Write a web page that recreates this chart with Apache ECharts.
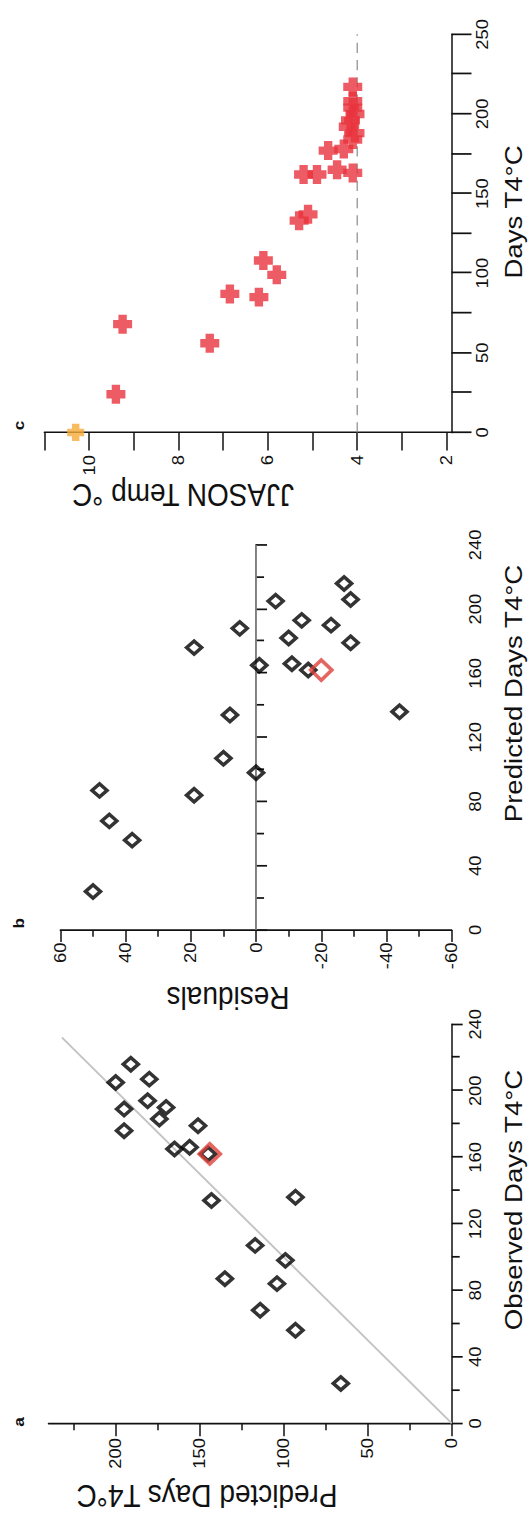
<!DOCTYPE html>
<html>
<head>
<meta charset="utf-8">
<script src="https://cdn.jsdelivr.net/npm/echarts@6/dist/echarts.min.js"></script>
<style>
  html, body { margin: 0; padding: 0; background: #fff; }
  body { width: 532px; height: 1519px; overflow: hidden; position: relative; }
  /* the figure is laid out landscape, then turned a quarter turn to the left */
  #chart {
    position: absolute; left: 0; top: 0;
    width: 1321px; height: 532px;
    transform-origin: 0 0;
    transform: translate(0, 1519px) rotate(-90deg) scale(1.15, 1);
  }
</style>
</head>
<body>
<div id="chart"></div>
<script>
// panel a: observed vs predicted days
const obsA = [24, 56, 68, 84, 87, 98, 107, 136, 134, 162, 166, 165, 179, 176, 183, 190, 189, 194, 205, 207, 216];
const predA = [66, 93, 114, 104, 135, 99, 117, 93, 143, 145, 156, 165, 151, 195, 174, 170, 195, 181, 200, 180, 191];
const redA = [162, 144];
const oneToOne = [0, 232];

// panel b: residuals vs predicted days
const predB = [24, 56, 68, 87, 84, 98, 107, 134, 136, 162, 166, 165, 179, 176, 182, 190, 188, 193, 205, 206, 216];
const residB = [50, 38, 45, 48, 19, 0, 10, 8, -44, -16, -11, -1, -29, 19, -10, -23, 5, -14, -6, -29, -27];
const redB = [162, -20];
const zeroLine = [0, 240];

// panel c: days vs JJASON temperature
const daysC = [24, 68, 56, 87, 85, 108, 99, 133, 137, 162, 162, 165, 163, 177, 178, 184, 192, 196, 204, 208, 217, 188, 200];
const tempC = [9.4, 9.25, 7.3, 6.85, 6.2, 6.1, 5.8, 5.3, 5.1, 5.2, 4.9, 4.45, 4.1, 4.65, 4.3, 4.1, 4.2, 4.15, 4.1, 4.1, 4.1, 4.05, 4.05];
const orangeC = [0, 10.3];
const threshold = 4;
const thresholdDays = [0, 250];

// tick values
const predTicksA = [0, 50, 100, 150, 200];
const predMinorA = [25, 75, 125, 175, 225];
const tempTicks = [2, 3, 4, 5, 6, 7, 8, 9, 10, 11];
const tempLabels = [2, 4, 6, 8, 10];

const FONT = 'Liberation Sans, Arial, Helvetica, sans-serif';
const INK = '#111';
const plusPath = 'path://M2.8,0H7.2V2.8H10V7.2H7.2V10H2.8V7.2H0V2.8H2.8Z';

const chart = echarts.init(document.getElementById('chart'), null, {
  renderer: 'svg', width: 1321, height: 532
});

const line = { lineStyle: { color: INK, width: 1.5 } };
const label = (margin) => ({ color: INK, fontSize: 16, fontFamily: FONT, margin: margin });

const xAxisBase = (grid, max, interval, tickLen, minorLen, margin) => ({
  type: 'value', gridIndex: grid, position: 'bottom',
  min: 0, max: max, interval: interval,
  axisLine: line,
  axisTick: { length: tickLen, lineStyle: { color: INK, width: 1.5 } },
  minorTick: { show: true, splitNumber: 2, length: minorLen, lineStyle: { color: INK, width: 1.5 } },
  axisLabel: label(margin),
  splitLine: { show: false }
});

const diamond = { color: 'rgba(0,0,0,0)', borderColor: '#000', borderWidth: 3.3 };
const redDiamond = { color: 'rgba(0,0,0,0)', borderColor: '#df3f38', borderWidth: 3.4 };

const option = {
  animation: false,
  backgroundColor: '#fff',
  grid: [
    { left: 83.2, top: 48.5, width: 347, height: 403.2, outerBoundsMode: 'none', containLabel: false },
    { left: 512.2, top: 60.4, width: 334.8, height: 391.3, outerBoundsMode: 'none', containLabel: false },
    { left: 944.8, top: 44.4, width: 346.2, height: 407.1, outerBoundsMode: 'none', containLabel: false }
  ],
  xAxis: [
    xAxisBase(0, 240, 40, 11, 8, 16),
    xAxisBase(1, 240, 40, 11, 8, 16),
    xAxisBase(2, 250, 50, 20, 20, 23)
  ],
  yAxis: [
    {
      type: 'value', gridIndex: 0, position: 'left', min: 0, max: 240,
      axisLine: line,
      axisTick: { customValues: predTicksA, length: 11.3, lineStyle: { color: INK, width: 1.5 } },
      axisLabel: Object.assign(label(12.8), { customValues: predTicksA }),
      splitLine: { show: false }
    },
    {
      type: 'value', gridIndex: 0, position: 'left', min: 0, max: 240,
      axisLine: { show: false },
      axisTick: { customValues: predMinorA, length: 6, lineStyle: { color: INK, width: 1.5 } },
      axisLabel: { show: false },
      splitLine: { show: false }
    },
    {
      type: 'value', gridIndex: 1, position: 'left', min: -60, max: 60, interval: 20,
      axisLine: line,
      axisTick: { length: 10.4, lineStyle: { color: INK, width: 1.5 } },
      minorTick: { show: true, splitNumber: 2, length: 5.8, lineStyle: { color: INK, width: 1.5 } },
      axisLabel: label(11),
      splitLine: { show: false }
    },
    {
      type: 'value', gridIndex: 2, position: 'left', min: 1.89, max: 11,
      axisLine: line,
      axisTick: { customValues: tempTicks, length: 15.7, lineStyle: { color: INK, width: 1.5 } },
      axisLabel: Object.assign(label(19.6), { customValues: tempLabels }),
      splitLine: { show: false }
    }
  ],
  series: [
    {
      type: 'line', xAxisIndex: 0, yAxisIndex: 0, z: 1,
      data: oneToOne.map(v => [v, v]),
      showSymbol: false, silent: true,
      lineStyle: { color: '#c4c4c4', width: 1.8 }
    },
    {
      type: 'scatter', xAxisIndex: 0, yAxisIndex: 0, clip: false,
      data: obsA.map((v, i) => [v, predA[i]]),
      symbol: 'diamond', symbolSize: [11.5, 15],
      itemStyle: diamond
    },
    {
      type: 'scatter', xAxisIndex: 0, yAxisIndex: 0, clip: false, z: 3,
      data: [redA],
      symbol: 'diamond', symbolSize: [17.5, 21],
      itemStyle: redDiamond
    },
    {
      type: 'line', xAxisIndex: 1, yAxisIndex: 2, z: 1,
      data: zeroLine.map(v => [v, 0]),
      showSymbol: false, silent: true,
      lineStyle: { color: '#a9a9a9', width: 1.2 }
    },
    {
      type: 'scatter', xAxisIndex: 1, yAxisIndex: 2, clip: false,
      data: predB.map((v, i) => [v, residB[i]]),
      symbol: 'diamond', symbolSize: [11.5, 15],
      itemStyle: diamond
    },
    {
      type: 'scatter', xAxisIndex: 1, yAxisIndex: 2, clip: false, z: 3,
      data: [redB],
      symbol: 'diamond', symbolSize: [17.5, 21],
      itemStyle: redDiamond
    },
    {
      type: 'line', xAxisIndex: 2, yAxisIndex: 3, z: 1,
      data: thresholdDays.map(v => [v, threshold]),
      showSymbol: false, silent: true,
      lineStyle: { color: '#8a8a8a', width: 1.2, type: [9, 6] }
    },
    {
      type: 'scatter', xAxisIndex: 2, yAxisIndex: 3, clip: false,
      data: daysC.map((v, i) => [v, tempC[i]]),
      symbol: plusPath, symbolSize: [16.5, 19],
      itemStyle: { color: '#e8333d' }
    },
    {
      type: 'scatter', xAxisIndex: 2, yAxisIndex: 3, clip: false,
      data: [orangeC],
      symbol: plusPath, symbolSize: [15, 17],
      itemStyle: { color: '#f6aa38' }
    }
  ],
  graphic: [
    // panel letters
    { type: 'text', x: 84.3, y: 18, style: { text: 'a', fontSize: 15, fontWeight: 'bold', fontFamily: FONT, fill: INK, textAlign: 'center', textVerticalAlign: 'middle', align: 'center', verticalAlign: 'middle' } },
    { type: 'text', x: 518, y: 18, style: { text: 'b', fontSize: 15, fontWeight: 'bold', fontFamily: FONT, fill: INK, textAlign: 'center', textVerticalAlign: 'middle', align: 'center', verticalAlign: 'middle' } },
    { type: 'text', x: 951, y: 18, style: { text: 'c', fontSize: 15, fontWeight: 'bold', fontFamily: FONT, fill: INK, textAlign: 'center', textVerticalAlign: 'middle', align: 'center', verticalAlign: 'middle' } },
    // x titles
    { type: 'text', x: 277.4, y: 514, style: { text: 'Observed Days T4°C', fontSize: 24, fontFamily: FONT, fill: INK, textAlign: 'center', textVerticalAlign: 'middle', align: 'center', verticalAlign: 'middle' } },
    { type: 'text', x: 717.8, y: 514, style: { text: 'Predicted Days T4°C', fontSize: 24, fontFamily: FONT, fill: INK, textAlign: 'center', textVerticalAlign: 'middle', align: 'center', verticalAlign: 'middle' } },
    { type: 'text', x: 1136.5, y: 514, style: { text: 'Days T4°C', fontSize: 24, fontFamily: FONT, fill: INK, textAlign: 'center', textVerticalAlign: 'middle', align: 'center', verticalAlign: 'middle' } },
    // y titles
    { type: 'text', x: 20, y: 207, rotation: Math.PI / 2, style: { text: 'Predicted Days T4°C', fontSize: 28, fontFamily: FONT, fill: INK, textAlign: 'center', textVerticalAlign: 'middle', align: 'center', verticalAlign: 'middle' } },
    { type: 'text', x: 453, y: 228, rotation: Math.PI / 2, style: { text: 'Residuals', fontSize: 28, fontFamily: FONT, fill: INK, textAlign: 'center', textVerticalAlign: 'middle', align: 'center', verticalAlign: 'middle' } },
    { type: 'text', x: 890.4, y: 183, rotation: Math.PI / 2, style: { text: 'JJASON Temp °C', fontSize: 28, fontFamily: FONT, fill: INK, textAlign: 'center', textVerticalAlign: 'middle', align: 'center', verticalAlign: 'middle' } }
  ]
};

chart.setOption(option);
</script>
</body>
</html>
